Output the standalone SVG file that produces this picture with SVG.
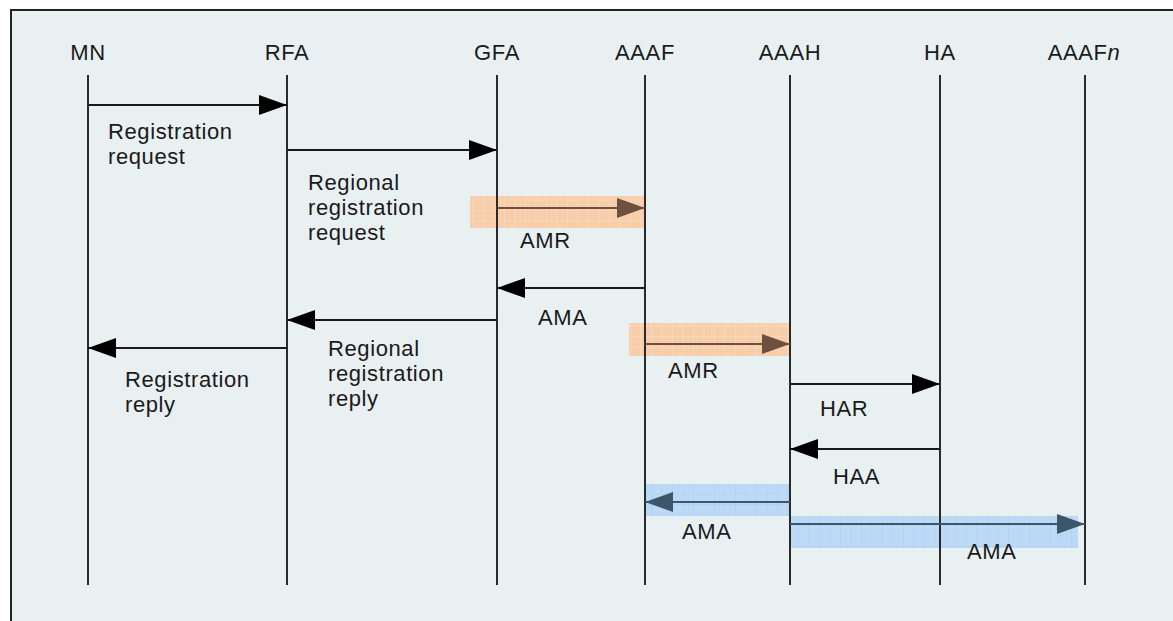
<svg xmlns="http://www.w3.org/2000/svg" width="1173" height="621" viewBox="0 0 1173 621">
<style>
.t{font-family:"Liberation Sans",Arial,sans-serif;font-size:22px;letter-spacing:0.6px;fill:#1a1a1a}
.life{stroke:#2a2a2a;stroke-width:2}
.msg{stroke:#1a1a1a;stroke-width:2;fill:none}
.hl-o{fill:url(#gridO)}
.hl-b{fill:url(#gridB)}
.mo{stroke:#6e5040}
.mb{stroke:#3e566a}
</style>
<defs>
<pattern id="gridO" width="10.5" height="10.5" patternUnits="userSpaceOnUse">
<rect width="10.5" height="10.5" fill="#f8ceaa"/>
<path d="M0 0H10.5M0 0V10.5" stroke="#fbe0c8" stroke-width="1"/>
</pattern>
<pattern id="gridB" width="10.5" height="10.5" patternUnits="userSpaceOnUse">
<rect width="10.5" height="10.5" fill="#bcdaf6"/>
<path d="M0 0H10.5M0 0V10.5" stroke="#a6cdf2" stroke-width="1"/>
</pattern>
<marker id="ah" viewBox="0 0 28 20" refX="28" refY="10" markerWidth="28" markerHeight="20" markerUnits="userSpaceOnUse" orient="auto">
<path d="M0 0L28 10L0 20Z" fill="#000"/>
</marker>
<marker id="ahO" viewBox="0 0 28 20" refX="28" refY="10" markerWidth="28" markerHeight="20" markerUnits="userSpaceOnUse" orient="auto">
<path d="M0 0L28 10L0 20Z" fill="#6e5040"/>
</marker>
<marker id="ahB" viewBox="0 0 28 20" refX="28" refY="10" markerWidth="28" markerHeight="20" markerUnits="userSpaceOnUse" orient="auto">
<path d="M0 0L28 10L0 20Z" fill="#3e566a"/>
</marker>
</defs>
<rect width="1173" height="621" fill="#fff"/>
<rect x="11" y="10" width="1170" height="620" fill="#e8f0f2" stroke="#222" stroke-width="2"/>

<g id="highlights">
<rect class="hl-o" x="470" y="196" width="175" height="32"/>
<rect class="hl-o" x="629" y="323" width="161" height="33"/>
<rect class="hl-b" x="645" y="484" width="145" height="32"/>
<rect class="hl-b" x="790" y="516" width="288" height="32"/>
</g>

<g id="MN"><text class="t" x="88" y="60" text-anchor="middle">MN</text><line class="life" x1="88" y1="75" x2="88" y2="585"/></g>
<g id="RFA"><text class="t" x="287" y="60" text-anchor="middle">RFA</text><line class="life" x1="287" y1="75" x2="287" y2="585"/></g>
<g id="GFA"><text class="t" x="497" y="60" text-anchor="middle">GFA</text><line class="life" x1="497" y1="75" x2="497" y2="585"/></g>
<g id="AAAF"><text class="t" x="645" y="60" text-anchor="middle">AAAF</text><line class="life" x1="645" y1="75" x2="645" y2="585"/></g>
<g id="AAAH"><text class="t" x="790" y="60" text-anchor="middle">AAAH</text><line class="life" x1="790" y1="75" x2="790" y2="585"/></g>
<g id="HA"><text class="t" x="940" y="60" text-anchor="middle">HA</text><line class="life" x1="940" y1="75" x2="940" y2="585"/></g>
<g id="AAAFn"><text class="t" x="1084" y="60" text-anchor="middle">AAAF<tspan font-style="italic">n</tspan></text><line class="life" x1="1085" y1="75" x2="1085" y2="585"/></g>

<g id="connectors">
<line class="msg" x1="88" y1="105" x2="287" y2="105" marker-end="url(#ah)"/>
<line class="msg" x1="287" y1="150" x2="497" y2="150" marker-end="url(#ah)"/>
<line class="msg mo" x1="497" y1="208" x2="645" y2="208" marker-end="url(#ahO)"/>
<line class="msg" x1="645" y1="288" x2="497" y2="288" marker-end="url(#ah)"/>
<line class="msg" x1="497" y1="320" x2="287" y2="320" marker-end="url(#ah)"/>
<line class="msg" x1="287" y1="348" x2="88" y2="348" marker-end="url(#ah)"/>
<line class="msg mo" x1="645" y1="344" x2="790" y2="344" marker-end="url(#ahO)"/>
<line class="msg" x1="790" y1="384" x2="940" y2="384" marker-end="url(#ah)"/>
<line class="msg" x1="940" y1="449" x2="790" y2="449" marker-end="url(#ah)"/>
<line class="msg mb" x1="790" y1="502" x2="645" y2="502" marker-end="url(#ahB)"/>
<line class="msg mb" x1="790" y1="524" x2="1085" y2="524" marker-end="url(#ahB)"/>
</g>

<g id="labels">
<text class="t" x="108" y="139">Registration<tspan x="108" dy="25">request</tspan></text>
<text class="t" x="308" y="190">Regional<tspan x="308" dy="25">registration</tspan><tspan x="308" dy="25">request</tspan></text>
<text class="t" x="520" y="248">AMR</text>
<text class="t" x="538" y="325">AMA</text>
<text class="t" x="328" y="356">Regional<tspan x="328" dy="25">registration</tspan><tspan x="328" dy="25">reply</tspan></text>
<text class="t" x="125" y="387">Registration<tspan x="125" dy="25">reply</tspan></text>
<text class="t" x="668" y="378">AMR</text>
<text class="t" x="820" y="416">HAR</text>
<text class="t" x="833" y="484">HAA</text>
<text class="t" x="682" y="539">AMA</text>
<text class="t" x="967" y="559">AMA</text>
</g>
</svg>
